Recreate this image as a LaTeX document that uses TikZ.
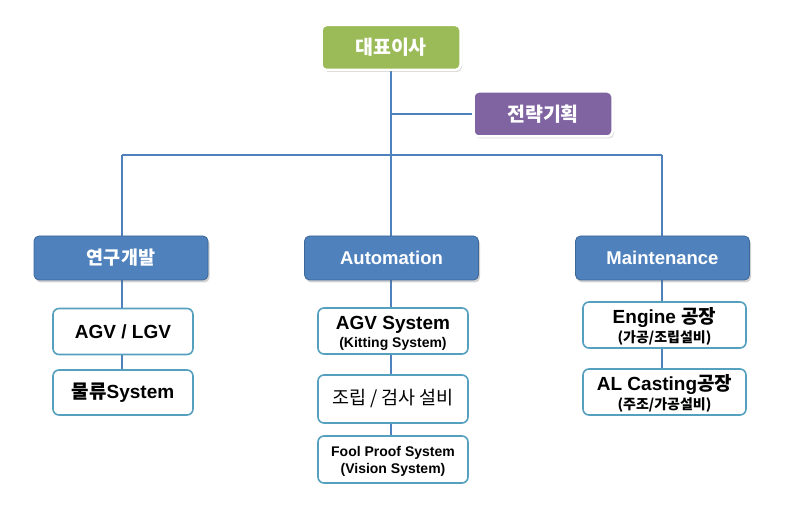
\documentclass[tikz,border=0pt]{standalone}
\usepackage{fontspec}
\setmainfont{Liberation Sans}
\newfontfamily\kr{Noto Sans CJK KR}
\usetikzlibrary{shadows,backgrounds}
\definecolor{cgreen}{HTML}{9BBB59}
\definecolor{cpurple}{HTML}{8064A2}
\definecolor{cblue}{HTML}{4F81BD}
\definecolor{cbluedark}{HTML}{3C6799}
\definecolor{cteal}{RGB}{84,160,190}
\definecolor{cline}{HTML}{4F81BD}
\tikzset{
  topbox/.style={draw=white, line width=2.5pt, rounded corners=5pt, minimum height=45pt,
    text=white, font=\kr\bfseries\fontsize{19.5}{22}\selectfont,
    drop shadow={shadow xshift=1.5pt, shadow yshift=-2pt, opacity=0.25, fill=black!60}},
  midbox/.style={draw=cbluedark, line width=0.8pt, fill=cblue, rounded corners=5pt,
    minimum width=174pt, minimum height=44pt, text=white,
    font=\bfseries\fontsize{18.5}{22}\selectfont,
    drop shadow={shadow xshift=1.5pt, shadow yshift=-2.5pt, opacity=0.3, fill=black!60}},
  leafbox/.style={draw=cteal, line width=1.6pt, fill=white, rounded corners=6pt,
    minimum height=46pt, align=center, text=black},
  lefttext/.style={align=center, text=black, inner sep=0pt},
  conn/.style={draw=cline, line width=2pt}
}
\begin{document}
\begin{tikzpicture}[x=1pt,y=-1pt]
\useasboundingbox (0,0) rectangle (801,510);
\coordinate (hl) at (122,155);
\coordinate (hr) at (662,155);
\coordinate (hm) at (391,155);

\node[topbox, fill=cgreen, minimum width=139pt] (ceo) at (391,47.5) {대표이사};
\node[topbox, fill=cpurple, minimum width=139pt] (plan) at (543,114) {전략기획};

\node[midbox] (rd) at (121,258) {\kr 연구개발};
\node[midbox] (auto) at (391.5,258) {Automation};
\node[midbox] (mnt) at (662.5,258) {Maintenance};

\node[leafbox, minimum width=140pt, font=\bfseries\fontsize{19}{22}\selectfont] (agv) at (123,331.5) {AGV / LGV};
\node[leafbox, minimum width=140pt, minimum height=45pt, font=\bfseries\fontsize{19}{22}\selectfont] (mul) at (123,392.5) {{\kr 물류}System};

\node[leafbox, minimum width=150pt] (agvs) at (393,331) {};
\node[lefttext, font=\bfseries\fontsize{19}{22}\selectfont] (agvst) at (393,333) {AGV System\\[-4pt]{\fontsize{14}{16}\selectfont (Kitting System)}};
\node[leafbox, minimum width=150pt, minimum height=48pt, font=\kr\fontsize{18.5}{22}\selectfont] (asm) at (393,399) {조립 / 검사 설비};
\node[leafbox, minimum width=150pt, minimum height=47pt] (fool) at (393,459.5) {};
\node[lefttext, font=\bfseries\fontsize{14}{16.5}\selectfont] (foolt) at (393,461.5) {Fool Proof System\\(Vision System)};

\node[leafbox, minimum width=163pt] (eng) at (664.5,325) {};
\node[lefttext, font=\bfseries\fontsize{19}{22}\selectfont] (engt) at (664.5,326) {Engine {\kr 공장}\\[-3pt]{\kr\fontsize{14}{16}\selectfont (가공/조립설비)}};
\node[leafbox, minimum width=163pt] (alc) at (664.5,392) {};
\node[lefttext, font=\bfseries\fontsize{19}{22}\selectfont] (alct) at (664.5,393.5) {AL Casting{\kr 공장}\\[-3pt]{\kr\fontsize{14}{16}\selectfont (주조/가공설비)}};

\begin{scope}[on background layer]
\draw[conn] (ceo.south) -- (hm);
\draw[conn] (plan.west -| hm) -- (plan.west);
\draw[conn] (hl) -- (hr);
\draw[conn] (hl) -- (rd.north -| hl);
\draw[conn] (hm) -- (auto.north -| hm);
\draw[conn] (hr) -- (mnt.north -| hr);
\draw[conn] (rd.south -| hl) -- (mul.north -| hl);
\draw[conn] (auto.south -| hm) -- (fool.north -| hm);
\draw[conn] (mnt.south -| hr) -- (alc.north -| hr);
\end{scope}
\end{tikzpicture}
\end{document}
